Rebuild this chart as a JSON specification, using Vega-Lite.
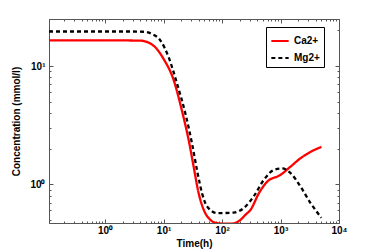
{
  "$schema": "https://vega.github.io/schema/vega-lite/v6.json",
  "width": 290,
  "height": 204,
  "autosize": "none",
  "padding": {"left": 49, "top": 19, "right": 35, "bottom": 29},
  "config": {
    "view": {"stroke": "#555", "strokeWidth": 1},
    "font": "Liberation Sans",
    "axis": {
      "grid": false,
      "domainColor": "#555",
      "tickColor": "#555",
      "labelFont": "Liberation Sans",
      "labelFontWeight": "bold",
      "labelFontSize": 10,
      "labelColor": "black",
      "titleFont": "Liberation Sans",
      "titleFontWeight": "bold",
      "titleFontSize": 10,
      "titleColor": "black"
    }
  },
  "data": {
    "values": [
      {"t": 0.11, "c": 16.5, "ion": "Ca2+"},
      {"t": 1, "c": 16.5, "ion": "Ca2+"},
      {"t": 4, "c": 16.4, "ion": "Ca2+"},
      {"t": 6.7, "c": 14.9, "ion": "Ca2+"},
      {"t": 10, "c": 11.5, "ion": "Ca2+"},
      {"t": 14.9, "c": 7.6, "ion": "Ca2+"},
      {"t": 20.6, "c": 4.2, "ion": "Ca2+"},
      {"t": 26.9, "c": 2.36, "ion": "Ca2+"},
      {"t": 32.7, "c": 1.41, "ion": "Ca2+"},
      {"t": 39.8, "c": 0.84, "ion": "Ca2+"},
      {"t": 48.5, "c": 0.61, "ion": "Ca2+"},
      {"t": 63, "c": 0.5, "ion": "Ca2+"},
      {"t": 80, "c": 0.47, "ion": "Ca2+"},
      {"t": 100, "c": 0.465, "ion": "Ca2+"},
      {"t": 150, "c": 0.465, "ion": "Ca2+"},
      {"t": 207, "c": 0.5, "ion": "Ca2+"},
      {"t": 250, "c": 0.55, "ion": "Ca2+"},
      {"t": 309, "c": 0.61, "ion": "Ca2+"},
      {"t": 427, "c": 0.84, "ion": "Ca2+"},
      {"t": 590, "c": 1.05, "ion": "Ca2+"},
      {"t": 1000, "c": 1.2, "ion": "Ca2+"},
      {"t": 1485, "c": 1.41, "ion": "Ca2+"},
      {"t": 2200, "c": 1.66, "ion": "Ca2+"},
      {"t": 3280, "c": 1.88, "ion": "Ca2+"},
      {"t": 5000, "c": 2.07, "ion": "Ca2+"},
      {"t": 0.11, "c": 19.6, "ion": "Mg2+"},
      {"t": 3, "c": 19.6, "ion": "Mg2+"},
      {"t": 4.5, "c": 19.5, "ion": "Mg2+"},
      {"t": 6.3, "c": 18.7, "ion": "Mg2+"},
      {"t": 8.8, "c": 16.5, "ion": "Mg2+"},
      {"t": 12.2, "c": 11.9, "ion": "Mg2+"},
      {"t": 17, "c": 7.1, "ion": "Mg2+"},
      {"t": 23.6, "c": 3.97, "ion": "Mg2+"},
      {"t": 30.6, "c": 2.22, "ion": "Mg2+"},
      {"t": 37.3, "c": 1.32, "ion": "Mg2+"},
      {"t": 45.5, "c": 0.84, "ion": "Mg2+"},
      {"t": 55.5, "c": 0.65, "ion": "Mg2+"},
      {"t": 82, "c": 0.57, "ion": "Mg2+"},
      {"t": 159, "c": 0.575, "ion": "Mg2+"},
      {"t": 236, "c": 0.63, "ion": "Mg2+"},
      {"t": 348, "c": 0.79, "ion": "Mg2+"},
      {"t": 519, "c": 1.09, "ion": "Mg2+"},
      {"t": 771, "c": 1.32, "ion": "Mg2+"},
      {"t": 1070, "c": 1.36, "ion": "Mg2+"},
      {"t": 1485, "c": 1.24, "ion": "Mg2+"},
      {"t": 2200, "c": 0.955, "ion": "Mg2+"},
      {"t": 3280, "c": 0.69, "ion": "Mg2+"},
      {"t": 5000, "c": 0.52, "ion": "Mg2+"}
    ]
  },
  "layer": [
    {
      "mark": {"type": "line", "clip": true, "interpolate": "monotone", "strokeWidth": 2.3},
      "encoding": {
        "x": {
          "field": "t", "type": "quantitative",
          "scale": {"type": "log", "domain": [0.11, 10000], "nice": false},
          "axis": {
            "title": "Time(h)",
            "titlePadding": 1,
            "values": [0.2,0.3,0.4,0.5,0.6,0.7,0.8,0.9,1,2,3,4,5,6,7,8,9,10,20,30,40,50,60,70,80,90,100,200,300,400,500,600,700,800,900,1000,2000,3000,4000,5000,6000,7000,8000,9000,10000],
            "labelExpr": "datum.value == 1 ? '10⁰' : datum.value == 10 ? '10¹' : datum.value == 100 ? '10²' : datum.value == 1000 ? '10³' : datum.value == 10000 ? '10⁴' : ''",
            "tickSize": {"condition": {"test": "abs(log(datum.value)/LN10 - round(log(datum.value)/LN10)) < 0.001", "value": -4}, "value": -2},
            "labelPadding": 6,
            "labelFlush": false,
            "labelOverlap": false
          }
        },
        "y": {
          "field": "c", "type": "quantitative",
          "scale": {"type": "log", "domain": [0.47, 25], "nice": false},
          "axis": {
            "title": "Concentration (mmol/l)",
            "titlePadding": 8,
            "values": [0.5,0.6,0.7,0.8,0.9,1,2,3,4,5,6,7,8,9,10,20],
            "labelExpr": "datum.value == 1 ? '10⁰' : datum.value == 10 ? '10¹' : ''",
            "tickSize": {"condition": {"test": "abs(log(datum.value)/LN10 - round(log(datum.value)/LN10)) < 0.001", "value": -4}, "value": -2},
            "labelPadding": 8,
            "labelFlush": false,
            "labelOverlap": false
          }
        },
        "color": {
          "field": "ion", "type": "nominal",
          "scale": {"domain": ["Ca2+", "Mg2+"], "range": ["#ff0000", "#000000"]},
          "legend": {
            "title": null,
            "orient": "none",
            "legendX": 217,
            "legendY": 8,
            "strokeColor": "black",
            "fillColor": "white",
            "padding": 4,
            "symbolType": "stroke",
            "symbolSize": 300,
            "symbolStrokeWidth": 2.2,
            "labelFont": "Liberation Sans",
            "labelFontWeight": "bold",
            "labelFontSize": 10,
            "labelColor": "black",
            "rowPadding": 2
          }
        },
        "strokeDash": {
          "field": "ion", "type": "nominal",
          "scale": {"domain": ["Ca2+", "Mg2+"], "range": [[1, 0], [4, 3]]},
          "legend": null
        }
      }
    },
    {
      "mark": {"type": "line", "opacity": 0},
      "encoding": {
        "x": {
          "field": "t", "type": "quantitative",
          "axis": {
            "orient": "top",
            "title": null,
            "labels": false,
            "values": [0.2,0.3,0.4,0.5,0.6,0.7,0.8,0.9,1,2,3,4,5,6,7,8,9,10,20,30,40,50,60,70,80,90,100,200,300,400,500,600,700,800,900,1000,2000,3000,4000,5000,6000,7000,8000,9000,10000],
            "tickSize": {"condition": {"test": "abs(log(datum.value)/LN10 - round(log(datum.value)/LN10)) < 0.001", "value": -4}, "value": -2}
          }
        },
        "y": {
          "field": "c", "type": "quantitative",
          "axis": {
            "orient": "right",
            "title": null,
            "labels": false,
            "values": [0.5,0.6,0.7,0.8,0.9,1,2,3,4,5,6,7,8,9,10,20],
            "tickSize": {"condition": {"test": "abs(log(datum.value)/LN10 - round(log(datum.value)/LN10)) < 0.001", "value": -4}, "value": -2}
          }
        },
        "detail": {"field": "ion"}
      }
    }
  ],
  "resolve": {"axis": {"x": "independent", "y": "independent"}}
}
